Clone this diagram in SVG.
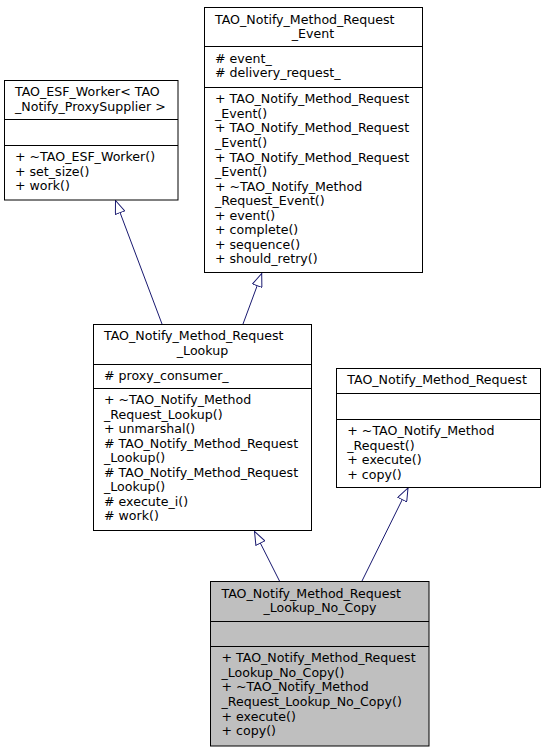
<svg xmlns="http://www.w3.org/2000/svg" width="545" height="752" viewBox="0 0 545 752">
<defs>
<style>
.box{fill:#ffffff;stroke:#000000;stroke-width:1}
.cur{fill:#bfbfbf;stroke:#000000;stroke-width:1}
.div{stroke:#000000;stroke-width:1}
text{font-family:"DejaVu Sans","Bitstream Vera Sans",sans-serif;font-size:12.6px;fill:#000000}
.c{text-anchor:middle}
.edge{fill:none;stroke:#191970;stroke-width:1;marker-end:url(#tri)}
</style>
<marker id="tri" markerUnits="userSpaceOnUse" viewBox="0 0 14 11" refX="13.5" refY="5.5" markerWidth="14" markerHeight="11" orient="auto">
<path d="M0.5,0.5 L13.5,5.5 L0.5,10.5 Z" fill="#ffffff" stroke="#191970" stroke-width="1"/>
</marker>
</defs>
<rect width="545" height="752" fill="#ffffff"/>
<g id="connectors">
<path class="edge" d="M162,324 L115.5,200.5"/>
<path class="edge" d="M243,324 L261.7,273.5"/>
<path class="edge" d="M280,582 L254.5,531.5"/>
<path class="edge" d="M361.5,582 L408,488"/>
</g>
<g id="node_event">
<rect class="box" x="204.5" y="7.5" width="218" height="265"/>
<line class="div" x1="204.5" y1="46.5" x2="422.5" y2="46.5"/>
<line class="div" x1="204.5" y1="87.5" x2="422.5" y2="87.5"/>
<text x="215" y="23.5">TAO_Notify_Method_Request</text>
<text class="c" x="313" y="38">_Event</text>
<text x="215" y="62.5"># event_</text>
<text x="215" y="77"># delivery_request_</text>
<text x="215" y="103.3">+ TAO_Notify_Method_Request</text>
<text x="215" y="117.9">_Event()</text>
<text x="215" y="132.4">+ TAO_Notify_Method_Request</text>
<text x="215" y="147">_Event()</text>
<text x="215" y="161.5">+ TAO_Notify_Method_Request</text>
<text x="215" y="176.1">_Event()</text>
<text x="215" y="190.6">+ ~TAO_Notify_Method</text>
<text x="215" y="205.2">_Request_Event()</text>
<text x="215" y="219.7">+ event()</text>
<text x="215" y="234.3">+ complete()</text>
<text x="215" y="248.8">+ sequence()</text>
<text x="215" y="263.4">+ should_retry()</text>
</g>
<g id="node_esf_worker">
<rect class="box" x="4.5" y="80.5" width="173.5" height="119.5"/>
<line class="div" x1="4.5" y1="119.5" x2="178" y2="119.5"/>
<line class="div" x1="4.5" y1="145.5" x2="178" y2="145.5"/>
<text x="15" y="96">TAO_ESF_Worker&lt; TAO</text>
<text x="15" y="110.5">_Notify_ProxySupplier &gt;</text>
<text x="15" y="161.3">+ ~TAO_ESF_Worker()</text>
<text x="15" y="175.8">+ set_size()</text>
<text x="15" y="190.4">+ work()</text>
</g>
<g id="node_lookup">
<rect class="box" x="93.5" y="324.5" width="218" height="206"/>
<line class="div" x1="93.5" y1="364.5" x2="311.5" y2="364.5"/>
<line class="div" x1="93.5" y1="388.5" x2="311.5" y2="388.5"/>
<text x="104" y="340">TAO_Notify_Method_Request</text>
<text class="c" x="202.5" y="354.5">_Lookup</text>
<text x="104" y="380"># proxy_consumer_</text>
<text x="104" y="404">+ ~TAO_Notify_Method</text>
<text x="104" y="418.6">_Request_Lookup()</text>
<text x="104" y="433.1">+ unmarshal()</text>
<text x="104" y="447.7"># TAO_Notify_Method_Request</text>
<text x="104" y="462.2">_Lookup()</text>
<text x="104" y="476.8"># TAO_Notify_Method_Request</text>
<text x="104" y="491.3">_Lookup()</text>
<text x="104" y="505.9"># execute_i()</text>
<text x="104" y="520.4"># work()</text>
</g>
<g id="node_method_request">
<rect class="box" x="336.5" y="368.5" width="204" height="119"/>
<line class="div" x1="336.5" y1="393.5" x2="540.5" y2="393.5"/>
<line class="div" x1="336.5" y1="419.5" x2="540.5" y2="419.5"/>
<text x="347.3" y="384">TAO_Notify_Method_Request</text>
<text x="347.3" y="435">+ ~TAO_Notify_Method</text>
<text x="347.3" y="449.5">_Request()</text>
<text x="347.3" y="464.1">+ execute()</text>
<text x="347.3" y="478.6">+ copy()</text>
</g>
<g id="node_lookup_no_copy">
<rect class="cur" x="210.5" y="581.5" width="218.5" height="164.5"/>
<line class="div" x1="210.5" y1="621.5" x2="429" y2="621.5"/>
<line class="div" x1="210.5" y1="646.5" x2="429" y2="646.5"/>
<text x="221.5" y="597.5">TAO_Notify_Method_Request</text>
<text class="c" x="320" y="612">_Lookup_No_Copy</text>
<text x="221.5" y="662.3">+ TAO_Notify_Method_Request</text>
<text x="221.5" y="676.9">_Lookup_No_Copy()</text>
<text x="221.5" y="691.4">+ ~TAO_Notify_Method</text>
<text x="221.5" y="706">_Request_Lookup_No_Copy()</text>
<text x="221.5" y="720.5">+ execute()</text>
<text x="221.5" y="735.1">+ copy()</text>
</g>
</svg>
